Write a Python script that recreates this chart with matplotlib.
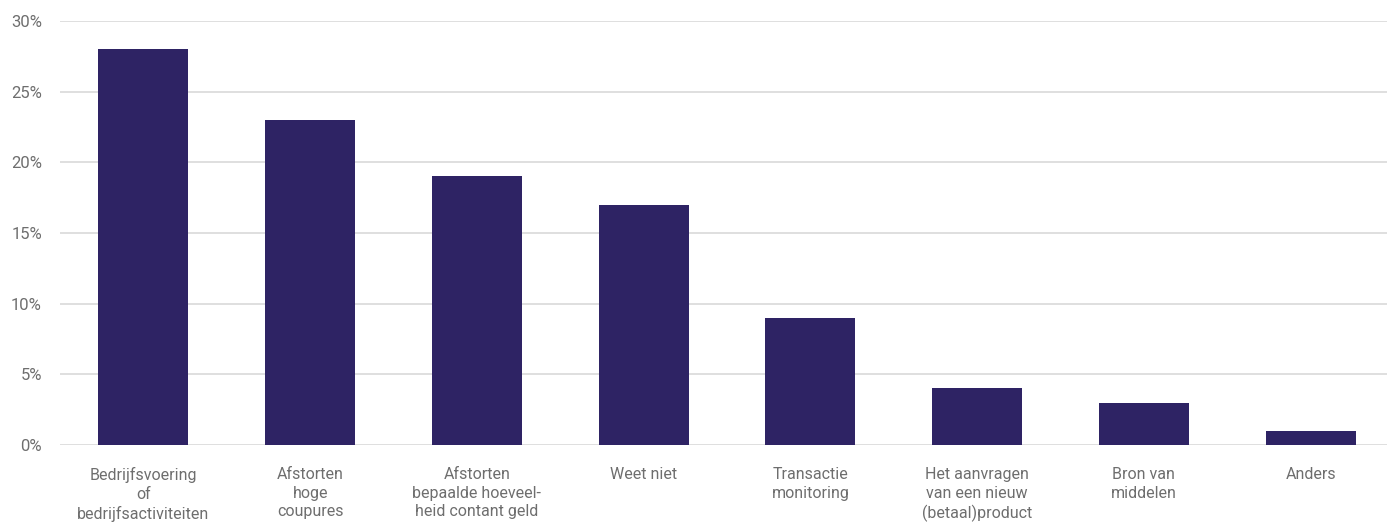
import matplotlib
matplotlib.use("Agg")
import matplotlib.pyplot as plt
from matplotlib.ticker import FuncFormatter

categories = [
    "Bedrijfsvoering\nof\nbedrijfsactiviteiten",
    "Afstorten\nhoge\ncoupures",
    "Afstorten\nbepaalde hoeveel-\nheid contant geld",
    "Weet niet",
    "Transactie\nmonitoring",
    "Het aanvragen\nvan een nieuw\n(betaal)product",
    "Bron van\nmiddelen",
    "Anders",
]
values = [28, 23, 19, 17, 9, 4, 3, 1]
yticks = [0, 5, 10, 15, 20, 25, 30]

plt.rcParams['font.family'] = ['Roboto', 'DejaVu Sans']

fig = plt.figure(figsize=(13.87, 5.26), dpi=100)
ax = fig.add_axes([60/1387, 1-445/526, 1334/1387, (445-21)/526])

x = range(len(categories))
ax.bar(x, values, width=0.54, color="#2e2364", zorder=3)
ax.set_xlim(-0.5, len(categories) - 0.5)
ax.set_ylim(0, 30)
ax.set_yticks(yticks)
ax.yaxis.set_major_formatter(FuncFormatter(lambda v, p: f"{int(v)}%"))
ax.set_xticks(list(x))
ax.set_xticklabels(categories, fontsize=11.5, color="#6e6e6e", linespacing=1.3)
ax.tick_params(axis='y', labelsize=12, labelcolor="#6e6e6e", length=0, pad=13)
ax.tick_params(axis='x', length=0, pad=16)
ax.grid(axis='y', color="#d6d6d6", linewidth=1.1, zorder=0)
for s in ax.spines.values():
    s.set_visible(False)

fig.savefig("out.png", dpi=100)
